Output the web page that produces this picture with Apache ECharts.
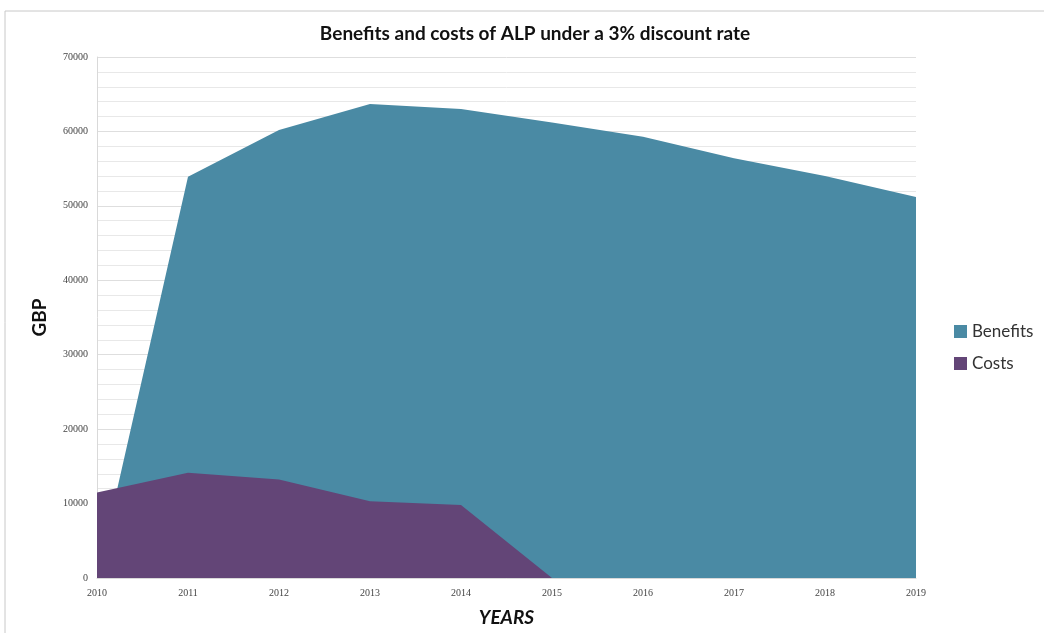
<!DOCTYPE html>
<html>
<head>
<meta charset="utf-8">
<script src="https://cdn.jsdelivr.net/npm/echarts@6/dist/echarts.min.js"></script>
<style>
  html, body { margin: 0; padding: 0; background: #fff; }
  #chart { width: 1044px; height: 633px; }
</style>
</head>
<body>
<div id="chart"></div>
<script>
// Years on the horizontal axis
const years = ['2010', '2011', '2012', '2013', '2014', '2015', '2016', '2017', '2018', '2019'];
// Discounted benefits and costs (GBP)
const benefits = [0, 53900, 60200, 63700, 63000, 61200, 59300, 56400, 54000, 51200];
const costs = [11500, 14150, 13250, 10300, 9800, 0, 0, 0, 0, 0];
// Vertical axis range
const yMin = 0;
const yMax = 70000;
const yStep = 10000;

const chart = echarts.init(document.getElementById('chart'), null, { renderer: 'canvas' });

chart.setOption({
  backgroundColor: '#ffffff',
  animation: false,
  title: {
    text: 'Benefits and costs of ALP under a 3% discount rate',
    left: 530,
    textAlign: 'center',
    top: 19,
    textStyle: { fontFamily: 'Lato', fontWeight: 'bold', fontSize: 19, color: '#111' }
  },
  legend: {
    orient: 'vertical',
    left: 949,
    top: 318,
    itemWidth: 13,
    itemHeight: 13,
    itemGap: 15,
    icon: 'rect',
    textStyle: { fontFamily: 'Lato', fontSize: 17, color: '#333' },
    data: ['Benefits', 'Costs']
  },
  graphic: [{
    type: 'rect',
    shape: { x: 5, y: 11, width: 1060, height: 640 },
    style: { fill: 'none', stroke: '#c8c8c8', lineWidth: 1 },
    silent: true
  }],
  grid: { left: 97, right: 128, top: 57, bottom: 55 },
  xAxis: {
    type: 'category',
    data: years,
    boundaryGap: false,
    name: 'YEARS',
    nameLocation: 'middle',
    nameGap: 30,
    nameTextStyle: { fontFamily: 'Lato', fontWeight: 'bold', fontStyle: 'italic', fontSize: 19, color: '#111' },
    axisLine: { show: true, lineStyle: { color: '#d9d9d9' } },
    axisTick: { show: false },
    axisLabel: { fontFamily: 'Liberation Serif', fontSize: 10, color: '#444', margin: 10 },
    splitLine: { show: false }
  },
  yAxis: {
    type: 'value',
    min: yMin,
    max: yMax,
    interval: yStep,
    name: 'GBP',
    nameLocation: 'middle',
    nameGap: 48,
    nameRotate: 90,
    nameTextStyle: { fontFamily: 'Lato', fontWeight: 'bold', fontSize: 19, color: '#111' },
    axisLine: { show: true, lineStyle: { color: '#d9d9d9' } },
    axisTick: { show: false },
    axisLabel: {
      fontFamily: 'Liberation Serif', fontSize: 10, color: '#444', margin: 9,
      formatter: function (v) { return String(v); }
    },
    splitLine: { show: true, lineStyle: { color: '#dedede', width: 1 } },
    minorTick: { show: false, splitNumber: 5 },
    minorSplitLine: { show: true, lineStyle: { color: '#e8e8e8', width: 1 } }
  },
  series: [
    {
      name: 'Benefits',
      type: 'line',
      data: benefits,
      symbol: 'none',
      lineStyle: { width: 0 },
      itemStyle: { color: '#4A8AA4' },
      areaStyle: { color: '#4A8AA4', opacity: 1 },
      z: 2
    },
    {
      name: 'Costs',
      type: 'line',
      data: costs,
      symbol: 'none',
      lineStyle: { width: 0 },
      itemStyle: { color: '#634577' },
      areaStyle: { color: '#634577', opacity: 1 },
      z: 3
    }
  ]
});
</script>
</body>
</html>
